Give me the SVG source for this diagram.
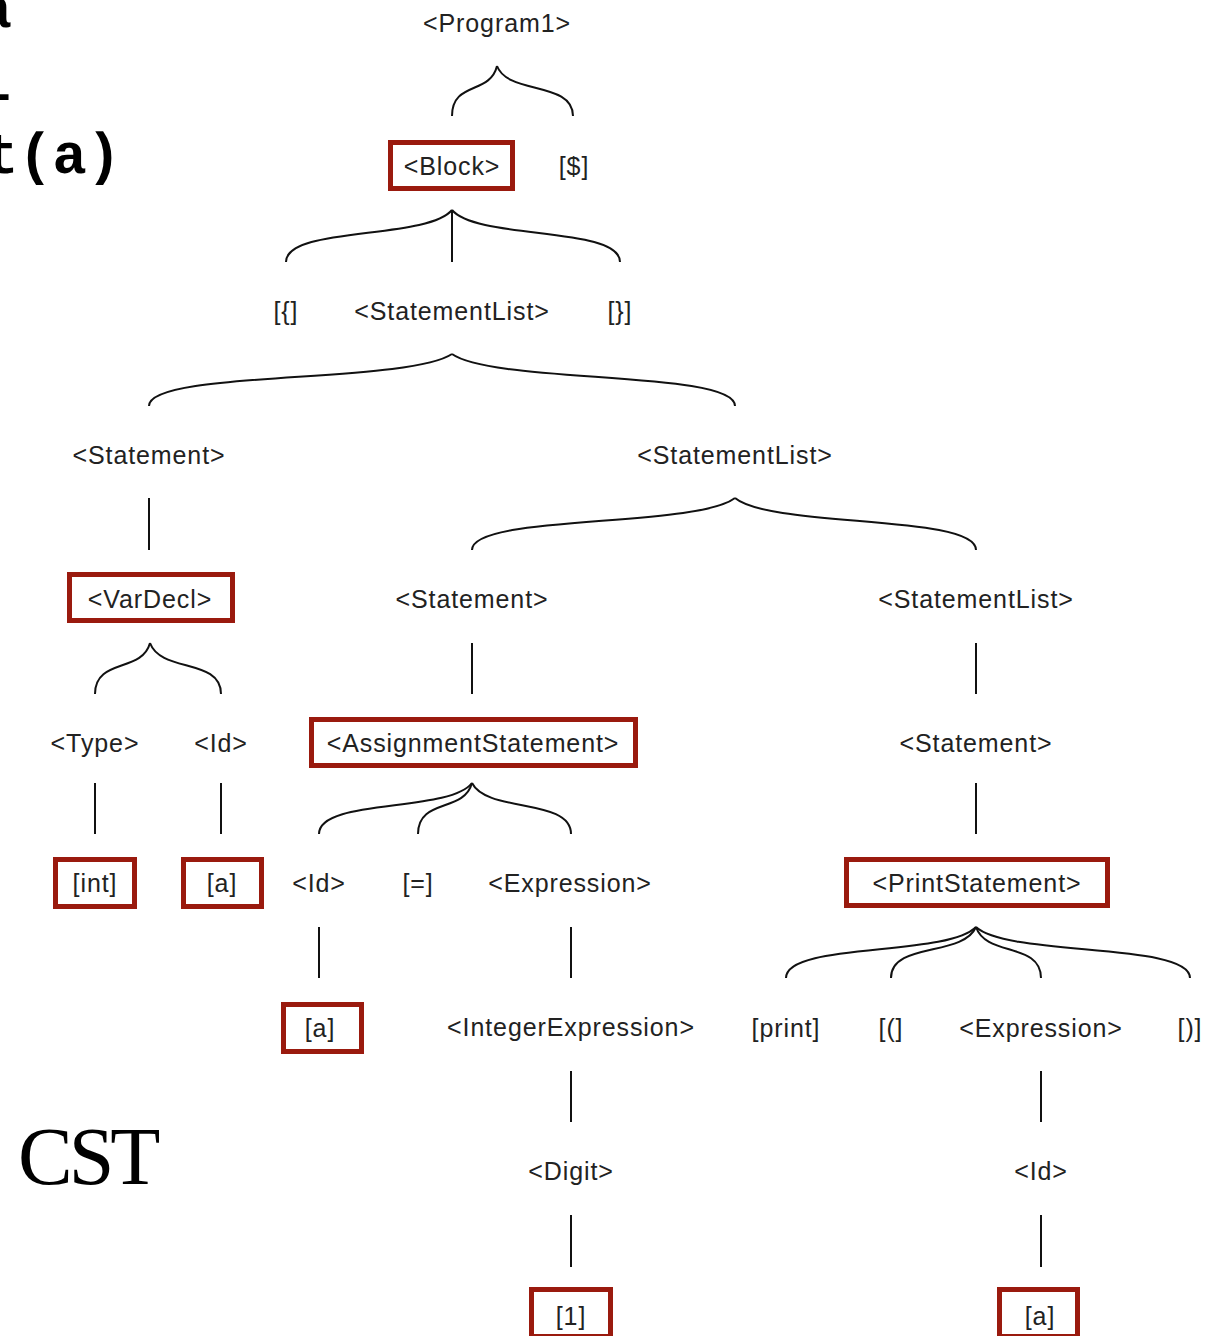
<svg xmlns="http://www.w3.org/2000/svg" width="1206" height="1336" viewBox="0 0 1206 1336">
<style>
.t{font-family:"Liberation Sans",Arial,sans-serif;font-size:25px;fill:#222;text-anchor:middle;letter-spacing:0.9px}
.b{fill:none;stroke:#9a1a0e;stroke-width:5}
.e{fill:none;stroke:#111;stroke-width:2}
.code{font-family:"Liberation Mono","Courier New",monospace;font-weight:bold;font-size:57px;fill:#000;text-anchor:end}
.cst{font-family:"Liberation Serif","Times New Roman",serif;font-size:82px;fill:#000;letter-spacing:-4px}
</style>
<rect width="1206" height="1336" fill="#fff"/>
<g id="code">
<text class="code" x="12" y="27">int a</text>
<text class="code" x="11" y="100">a = 1</text>
<text class="code" x="121" y="173">print(a)</text>
</g>
<text class="cst" x="18" y="1184">CST</text>
<g id="connectors">
<path class="e" d="M497,66 C490,95 452,81 452,116"/>
<path class="e" d="M497,66 C508,95 573,81 573,116"/>
<path class="e" d="M452,210 C427,240 286,226 286,262"/>
<path class="e" d="M452,210 L452,262"/>
<path class="e" d="M452,210 C477,240 620,226 620,262"/>
<path class="e" d="M452,354 C407,384 149,370 149,406"/>
<path class="e" d="M452,354 C494,384 735,370 735,406"/>
<path class="e" d="M149,498 L149,550"/>
<path class="e" d="M735,498 C696,528 472,514 472,550"/>
<path class="e" d="M735,498 C771,528 976,514 976,550"/>
<path class="e" d="M150,643 C142,673 95,658 95,694"/>
<path class="e" d="M150,643 C161,673 221,658 221,694"/>
<path class="e" d="M472,643 L472,694"/>
<path class="e" d="M976,643 L976,694"/>
<path class="e" d="M95,783 L95,834"/>
<path class="e" d="M221,783 L221,834"/>
<path class="e" d="M472,783 C449,813 319,798 319,834"/>
<path class="e" d="M472,783 C464,813 418,798 418,834"/>
<path class="e" d="M472,783 C487,813 571,798 571,834"/>
<path class="e" d="M976,783 L976,834"/>
<path class="e" d="M319,927 L319,978"/>
<path class="e" d="M571,927 L571,978"/>
<path class="e" d="M976,927 C947,957 786,942 786,978"/>
<path class="e" d="M976,927 C963,957 891,942 891,978"/>
<path class="e" d="M976,927 C986,957 1041,942 1041,978"/>
<path class="e" d="M976,927 C1008,957 1190,942 1190,978"/>
<path class="e" d="M571,1071 L571,1122"/>
<path class="e" d="M1041,1071 L1041,1122"/>
<path class="e" d="M571,1215 L571,1267"/>
<path class="e" d="M1041,1215 L1041,1267"/>
</g>
<g id="n-program1"><text class="t" x="497" y="32">&lt;Program1&gt;</text></g>
<g id="n-block"><rect class="b" x="390.5" y="142.5" width="122" height="46"/><text class="t" x="452" y="175">&lt;Block&gt;</text></g>
<g id="n-eof"><text class="t" x="574" y="175">[$]</text></g>
<g id="n-lbrace"><text class="t" x="286" y="320">[{]</text></g>
<g id="n-stmtlist1"><text class="t" x="452" y="320">&lt;StatementList&gt;</text></g>
<g id="n-rbrace"><text class="t" x="620" y="320">[}]</text></g>
<g id="n-stmt1"><text class="t" x="149" y="464">&lt;Statement&gt;</text></g>
<g id="n-stmtlist2"><text class="t" x="735" y="464">&lt;StatementList&gt;</text></g>
<g id="n-vardecl"><rect class="b" x="69.5" y="574.5" width="163" height="46"/><text class="t" x="150" y="608">&lt;VarDecl&gt;</text></g>
<g id="n-stmt2"><text class="t" x="472" y="608">&lt;Statement&gt;</text></g>
<g id="n-stmtlist3"><text class="t" x="976" y="608">&lt;StatementList&gt;</text></g>
<g id="n-type"><text class="t" x="95" y="752">&lt;Type&gt;</text></g>
<g id="n-id1"><text class="t" x="221" y="752">&lt;Id&gt;</text></g>
<g id="n-assign"><rect class="b" x="311.5" y="719.5" width="324" height="46"/><text class="t" x="473" y="752">&lt;AssignmentStatement&gt;</text></g>
<g id="n-stmt3"><text class="t" x="976" y="752">&lt;Statement&gt;</text></g>
<g id="n-int"><rect class="b" x="55.5" y="859.5" width="79" height="47"/><text class="t" x="95" y="892">[int]</text></g>
<g id="n-a1"><rect class="b" x="183.5" y="859.5" width="78" height="47"/><text class="t" x="222" y="892">[a]</text></g>
<g id="n-id2"><text class="t" x="319" y="892">&lt;Id&gt;</text></g>
<g id="n-eq"><text class="t" x="418" y="892">[=]</text></g>
<g id="n-expr1"><text class="t" x="570" y="892">&lt;Expression&gt;</text></g>
<g id="n-print"><rect class="b" x="846.5" y="859.5" width="261" height="46"/><text class="t" x="977" y="892">&lt;PrintStatement&gt;</text></g>
<g id="n-a2"><rect class="b" x="283.5" y="1004.5" width="78" height="47"/><text class="t" x="320" y="1037">[a]</text></g>
<g id="n-intexpr"><text class="t" x="571" y="1036">&lt;IntegerExpression&gt;</text></g>
<g id="n-printkw"><text class="t" x="786" y="1037">[print]</text></g>
<g id="n-lparen"><text class="t" x="891" y="1037">[(]</text></g>
<g id="n-expr2"><text class="t" x="1041" y="1037">&lt;Expression&gt;</text></g>
<g id="n-rparen"><text class="t" x="1190" y="1037">[)]</text></g>
<g id="n-digit"><text class="t" x="571" y="1180">&lt;Digit&gt;</text></g>
<g id="n-id3"><text class="t" x="1041" y="1180">&lt;Id&gt;</text></g>
<g id="n-one"><rect class="b" x="531.5" y="1289.5" width="79" height="47"/><text class="t" x="571" y="1325">[1]</text></g>
<g id="n-a3"><rect class="b" x="999.5" y="1289.5" width="78" height="47"/><text class="t" x="1040" y="1325">[a]</text></g>
</svg>
